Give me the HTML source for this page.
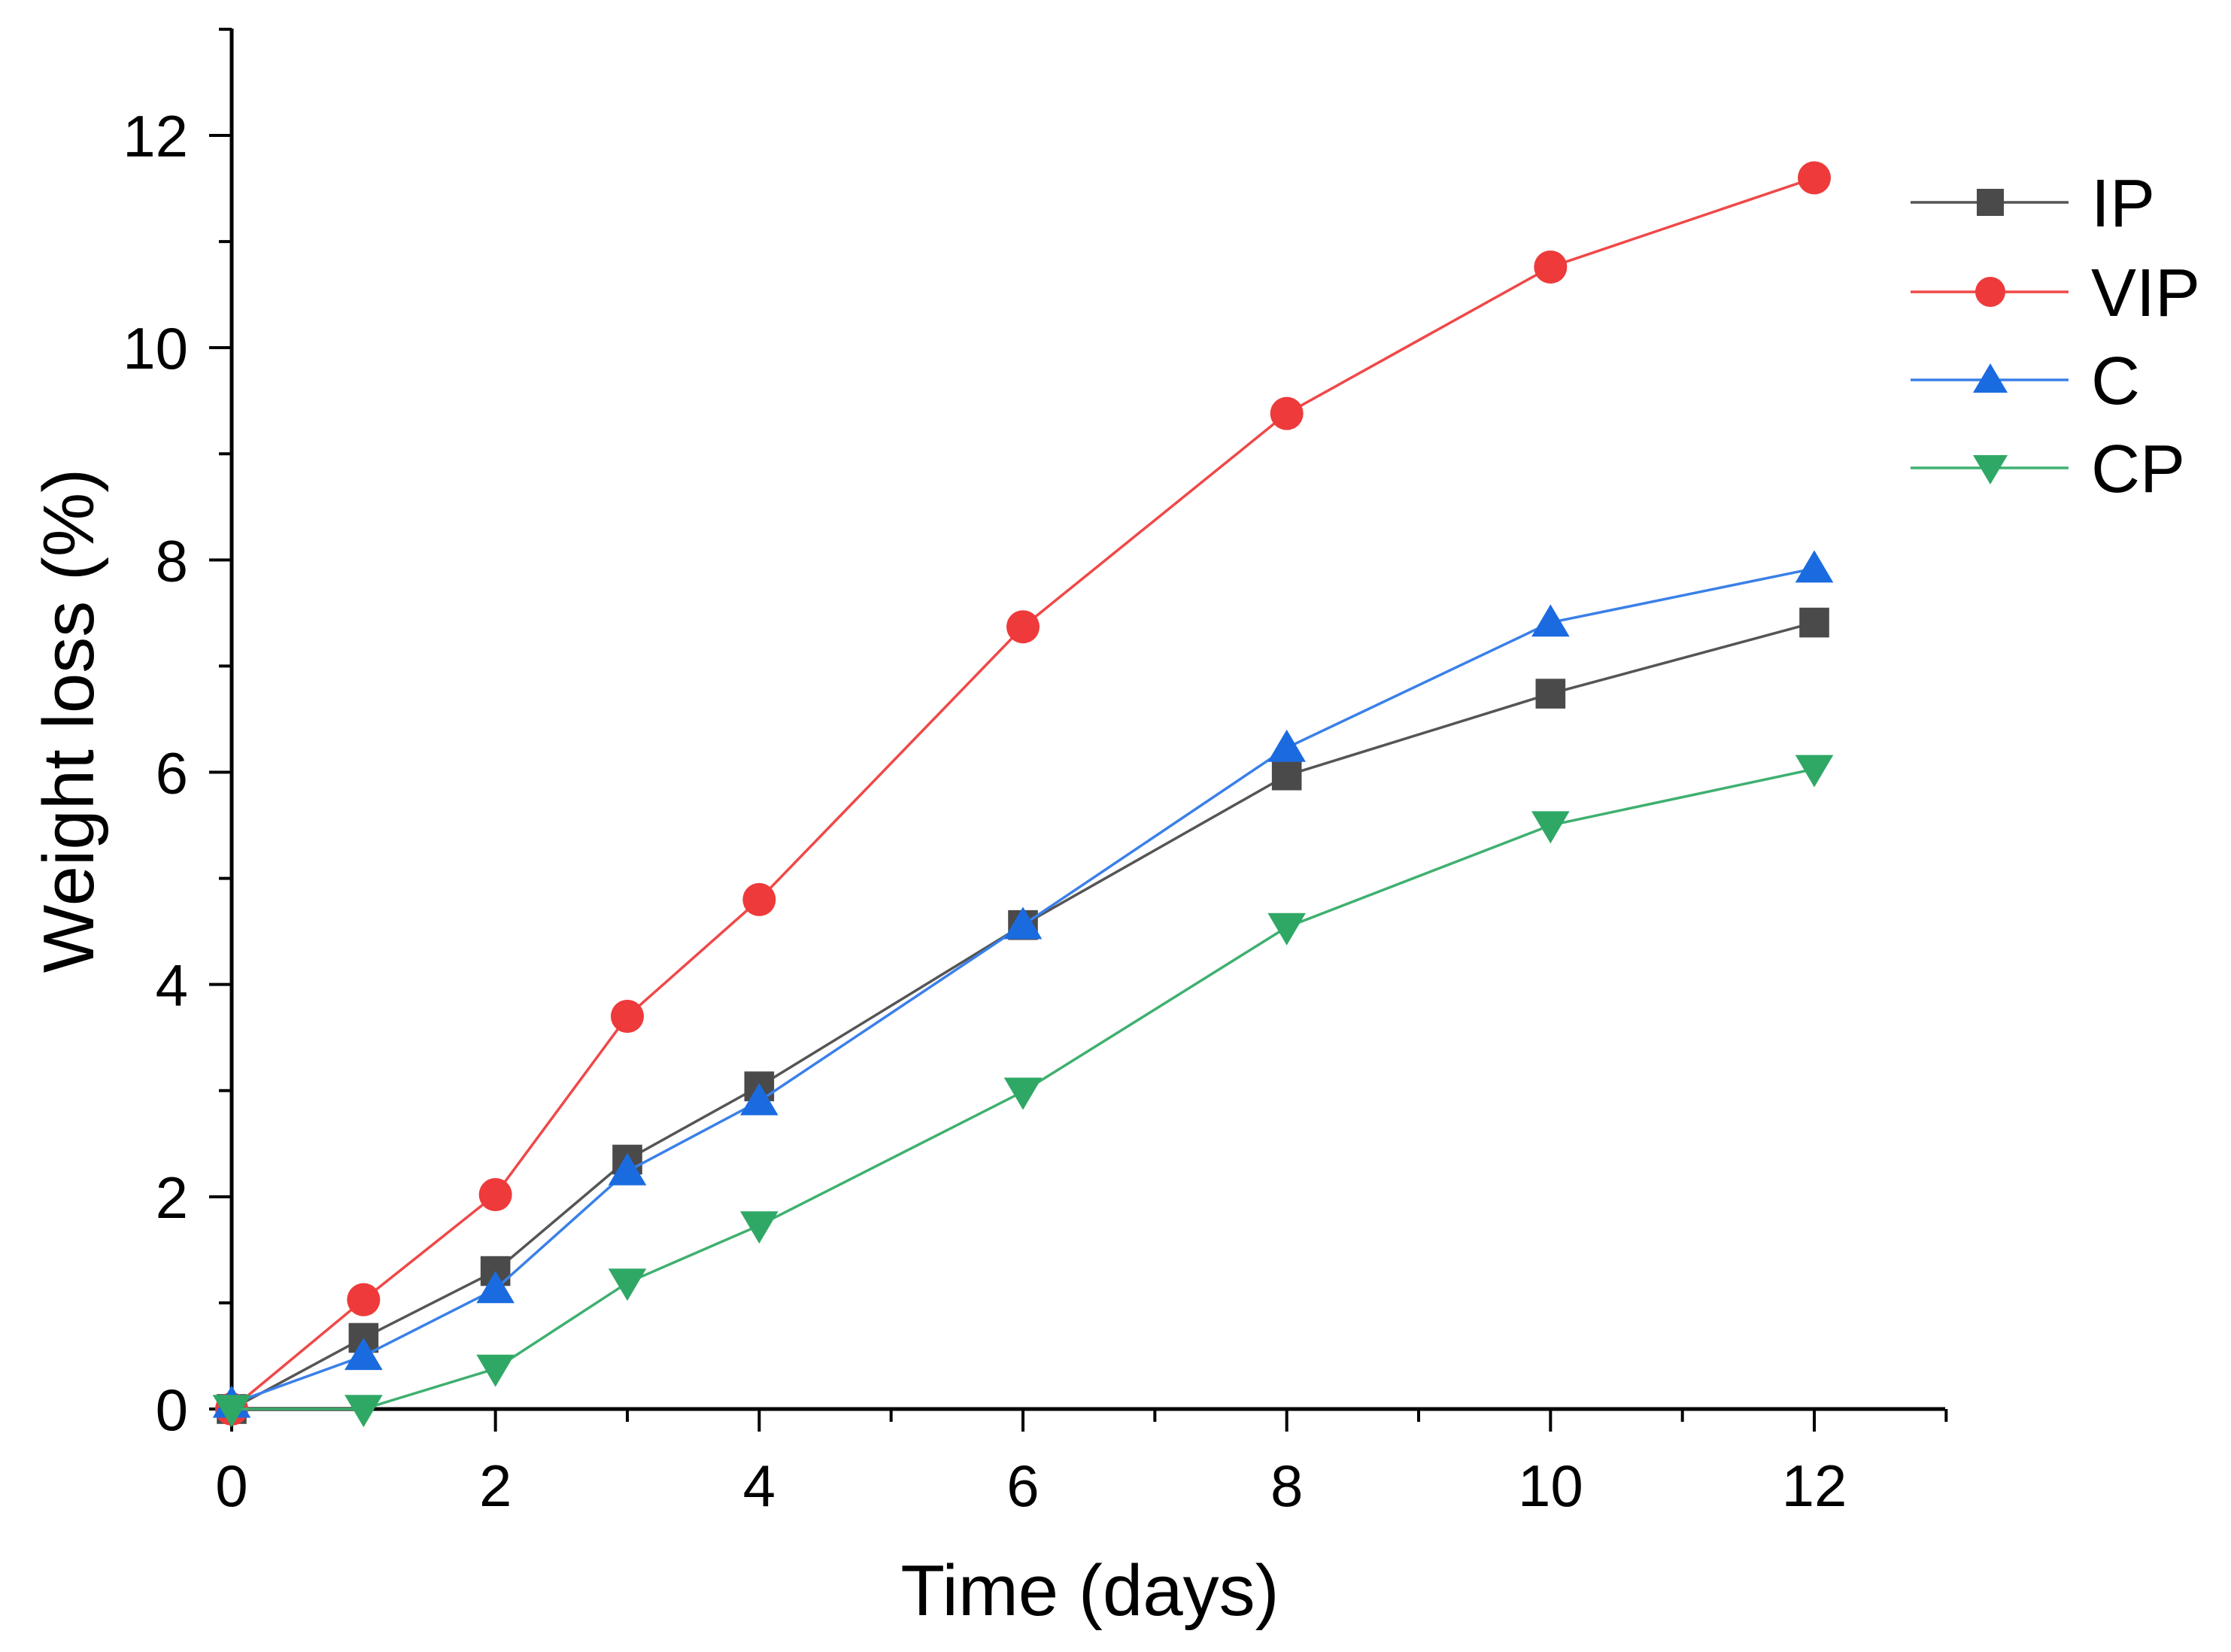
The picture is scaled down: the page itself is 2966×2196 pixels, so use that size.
<!DOCTYPE html>
<html><head><meta charset="utf-8"><style>
html,body{margin:0;padding:0;background:#fff;}
svg{display:block;font-family:"Liberation Sans",Arial,sans-serif;}
</style></head><body>
<svg id="chart" width="2966" height="2196" viewBox="0 0 2966 2196" xmlns="http://www.w3.org/2000/svg">
<g id="axes"></g>
<g id="series"></g>
<g id="legend"></g>
<text x="1449" y="2147" font-size="96" text-anchor="middle">Time (days)</text>
<text transform="translate(124,958) rotate(-90)" font-size="96" text-anchor="middle">Weight loss (%)</text>
</svg>
<script>
const days = [0,1,2,3,4,6,8,10,12];
const ipValues = [0,0.67,1.3,2.35,3.04,4.56,5.97,6.74,7.41];
const vipValues = [0,1.03,2.02,3.7,4.8,7.37,9.38,10.76,11.6];
const cValues = [0.05,0.5,1.13,2.24,2.9,4.56,6.23,7.41,7.92];
const cpValues = [0,0,0.38,1.19,1.73,2.99,4.54,5.5,6.03];
const xTickLabels = [0,2,4,6,8,10,12];
const yTickLabels = [0,2,4,6,8,10,12];
const seriesNames = ["IP","VIP","C","CP"];

const NS = "http://www.w3.org/2000/svg";
const X0 = 308, XU = (2412-308)/12, Y0 = 1873, YU = (1873-180)/12;
const xs = v => X0 + v*XU;
const ys = v => Y0 - v*YU;
function mk(tag, attrs, parent){const e=document.createElementNS(NS,tag);for(const k in attrs)e.setAttribute(k,attrs[k]);parent.appendChild(e);return e;}
const axes = document.getElementById('axes');
const ax = mk('line',{x1:X0,y1:Y0,x2:2586,y2:Y0,stroke:'#000','stroke-width':5},axes);


const ay = mk('line',{x1:X0,y1:Y0+2,x2:X0,y2:38,stroke:'#000','stroke-width':5},axes);


for(let i=0;i<=13;i++){
  const major = i%2===0;
  const t = mk('line',{x1:xs(i),y1:Y0,x2:xs(i),y2:Y0+(major?30:17),stroke:'#000','stroke-width':4},axes);
  
  
}
for(let i=0;i<=13;i++){
  const major = i%2===0;
  const t = mk('line',{x1:X0,y1:ys(i),x2:X0-(major?30:17),y2:ys(i),stroke:'#000','stroke-width':4},axes);
  
  
}
xTickLabels.forEach(v=>{
  const t = mk('text',{x:xs(v),y:2002,'font-size':78,'text-anchor':'middle'},axes);
  t.textContent = v;
  
  
});
yTickLabels.forEach(v=>{
  const t = mk('text',{x:250,y:ys(v)+28,'font-size':78,'text-anchor':'end'},axes);
  t.textContent = v;
  
  
});
const colors = {IP:'#4a4a4a',VIP:'#ee3a3a',C:'#1a6be0',CP:'#2fa866'};
const lineColors = {IP:'#555',VIP:'#f04848',C:'#3a80e8',CP:'#3fb070'};
const shapes = {IP:'square',VIP:'circle',C:'up',CP:'down'};
function marker(shape,x,y,r,fill,parent){
  let e;
  if(shape==='square') e=mk('rect',{x:x-r*0.9,y:y-r*0.9,width:r*1.8,height:r*1.8,fill:fill},parent);
  else if(shape==='circle') e=mk('circle',{cx:x,cy:y,r:r,fill:fill},parent);
  else if(shape==='up') e=mk('polygon',{points:`${x},${y-r*1.1} ${x-r*1.15},${y+r*0.85} ${x+r*1.15},${y+r*0.85}`,fill:fill},parent);
  else e=mk('polygon',{points:`${x},${y+r*1.1} ${x-r*1.15},${y-r*0.85} ${x+r*1.15},${y-r*0.85}`,fill:fill},parent);
  return e;
}
const data = {IP:ipValues,VIP:vipValues,C:cValues,CP:cpValues};
const sg = document.getElementById('series');
seriesNames.forEach(n=>{
  const g = mk('g',{},sg);
  
  
  const pts = days.map((d,i)=>xs(d)+','+ys(data[n][i])).join(' ');
  const pl = mk('polyline',{points:pts,fill:'none',stroke:lineColors[n],'stroke-width':3.5},g);
  
  
  days.forEach((d,i)=>{
    const m = marker(shapes[n],xs(d),ys(data[n][i]),22,colors[n],g);
    
    
  });
});
const lg = document.getElementById('legend');
const legendY = [269,388,505,622];
seriesNames.forEach((n,i)=>{
  const g = mk('g',{},lg);
  
  
  mk('line',{x1:2540,y1:legendY[i],x2:2750,y2:legendY[i],stroke:lineColors[n],'stroke-width':3.5},g);
  marker(shapes[n],2646,legendY[i],20,colors[n],g);
  const t = mk('text',{x:2780,y:legendY[i]+32,'font-size':90},g);
  t.textContent = n;
});
</script>
</body></html>
